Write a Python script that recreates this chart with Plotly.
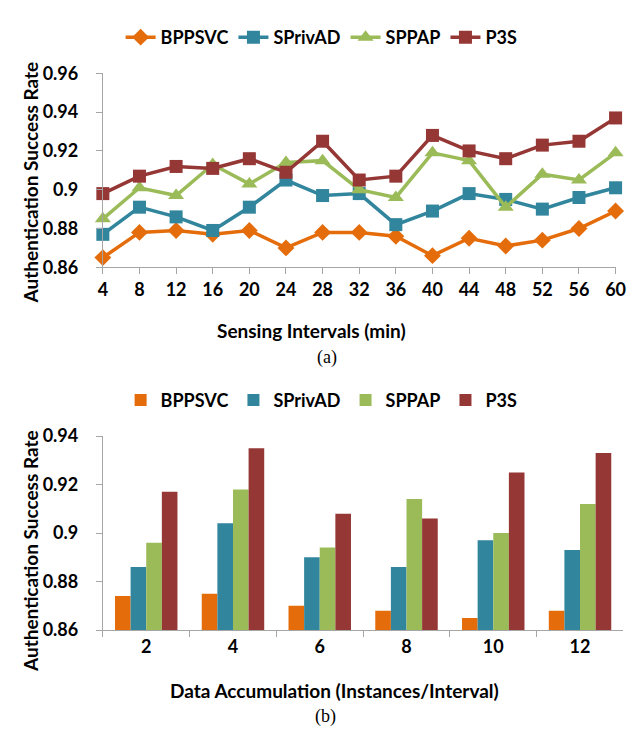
import plotly.graph_objects as go

# ---- data: chart (a) ----
intervals = [4, 8, 12, 16, 20, 24, 28, 32, 36, 40, 44, 48, 52, 56, 60]
bppsvc_a = [0.865, 0.878, 0.879, 0.877, 0.879, 0.870, 0.878, 0.878, 0.876, 0.866, 0.875, 0.871, 0.874, 0.880, 0.889]
sprivad_a = [0.877, 0.891, 0.886, 0.879, 0.891, 0.905, 0.897, 0.898, 0.882, 0.889, 0.898, 0.895, 0.890, 0.896, 0.901]
sppap_a = [0.885, 0.901, 0.897, 0.913, 0.903, 0.914, 0.915, 0.900, 0.896, 0.919, 0.915, 0.891, 0.908, 0.905, 0.919]
p3s_a = [0.898, 0.907, 0.912, 0.911, 0.916, 0.909, 0.925, 0.905, 0.907, 0.928, 0.920, 0.916, 0.923, 0.925, 0.937]

# ---- data: chart (b) ----
accum = ["2", "4", "6", "8", "10", "12"]
bppsvc_b = [0.874, 0.875, 0.870, 0.868, 0.865, 0.868]
sprivad_b = [0.886, 0.904, 0.890, 0.886, 0.897, 0.893]
sppap_b = [0.896, 0.918, 0.894, 0.914, 0.900, 0.912]
p3s_b = [0.917, 0.935, 0.908, 0.906, 0.925, 0.933]

series_names = ["BPPSVC", "SPrivAD", "SPPAP", "P3S"]
colors = ["#E46C0A", "#31859C", "#9BBB59", "#953735"]
symbols = ["diamond", "square", "triangle-up", "square"]
msizes = [13, 13, 14, 13]

ytick_a = [0.86, 0.88, 0.90, 0.92, 0.94, 0.96]
ytext_a = ["0.86", "0.88", "0.9", "0.92", "0.94", "0.96"]
ytick_b = [0.86, 0.88, 0.90, 0.92, 0.94]
ytext_b = ["0.86", "0.88", "0.9", "0.92", "0.94"]

W, H = 642, 730
FONT = "Lato"
AX = "#A6A6A6"


def px_x(x):
    return x / W


def px_y(y):
    return 1 - y / H


fig = go.Figure()

for name, vals, c, s, ms in zip(series_names, [bppsvc_a, sprivad_a, sppap_a, p3s_a], colors, symbols, msizes):
    fig.add_trace(go.Scatter(
        x=intervals, y=vals, name=name, mode="lines+markers",
        line=dict(color=c, width=3.5),
        marker=dict(symbol=s, size=ms, color=c),
        cliponaxis=False, xaxis="x", yaxis="y", legend="legend",
    ))

for name, vals, c in zip(series_names, [bppsvc_b, sprivad_b, sppap_b, p3s_b], colors):
    fig.add_trace(go.Bar(
        x=accum, y=vals, name=name, marker=dict(color=c, line=dict(width=0)),
        xaxis="x2", yaxis="y2", legend="legend2",
    ))

tickfont = dict(family=FONT, size=18, color="#000000", weight="bold")

fig.update_layout(
    width=W, height=H,
    margin=dict(l=0, r=0, t=0, b=0),
    paper_bgcolor="white", plot_bgcolor="white",
    barmode="group", bargap=0.28, bargroupgap=0,
    font=dict(family=FONT, color="#000000"),
    xaxis=dict(
        domain=[px_x(92), px_x(617)], anchor="y",
        range=[4, 60], tickvals=intervals, ticktext=[str(v) for v in intervals],
        showgrid=False, zeroline=False, showline=True, linecolor=AX, linewidth=1,
        ticks="outside", ticklen=6, tickcolor=AX, tickfont=tickfont,
    ),
    yaxis=dict(
        domain=[px_y(255), px_y(55)], anchor="x",
        range=[0.86, 0.96], tickvals=ytick_a, ticktext=ytext_a,
        showgrid=False, zeroline=False, showline=True, linecolor=AX, linewidth=1,
        ticks="outside", ticklen=6, tickcolor=AX, tickfont=tickfont,
        ticklabelstandoff=14,
    ),
    xaxis2=dict(
        domain=[px_x(92), px_x(625)], anchor="y2",
        type="category", tickson="boundaries",
        showgrid=False, zeroline=False, showline=True, linecolor=AX, linewidth=1,
        ticks="outside", ticklen=6, tickcolor=AX, tickfont=tickfont,
    ),
    yaxis2=dict(
        domain=[px_y(629), px_y(429)], anchor="x2",
        range=[0.86, 0.94], tickvals=ytick_b, ticktext=ytext_b,
        showgrid=False, zeroline=False, showline=True, linecolor=AX, linewidth=1,
        ticks="outside", ticklen=6, tickcolor=AX, tickfont=tickfont,
        ticklabelstandoff=14,
    ),
    legend=dict(
        orientation="h", x=px_x(316), y=px_y(18), xanchor="center", yanchor="middle",
        font=dict(family=FONT, size=18, color="#000000", weight="bold"),
        bgcolor="rgba(0,0,0,0)", itemwidth=30, tracegroupgap=0,
    ),
    legend2=dict(
        orientation="h", x=px_x(316), y=px_y(392), xanchor="center", yanchor="middle",
        font=dict(family=FONT, size=18, color="#000000", weight="bold"),
        bgcolor="rgba(0,0,0,0)", itemwidth=30, tracegroupgap=0,
    ),
    showlegend=True,
)

title_font = dict(family=FONT, size=19, color="#000000", weight="bold")
caption_font = dict(family="Liberation Serif", size=18, color="#000000")

annotations = [
    dict(text="Sensing Intervals (min)", x=px_x(306), y=px_y(320), font=title_font),
    dict(text="(a)", x=px_x(321), y=px_y(348), font=caption_font),
    dict(text="Data Accumulation (Instances/Interval)", x=px_x(329), y=px_y(691), font=title_font),
    dict(text="(b)", x=px_x(320), y=px_y(718), font=caption_font),
    dict(text="Authentication Success Rate", x=px_x(18), y=px_y(168), textangle=-90, font=title_font),
    dict(text="Authentication Success Rate", x=px_x(18), y=px_y(548), textangle=-90, font=title_font),
]
for a in annotations:
    a.update(xref="paper", yref="paper", showarrow=False, xanchor="center", yanchor="middle")
fig.update_layout(annotations=annotations)

fig.write_html("out.html")
